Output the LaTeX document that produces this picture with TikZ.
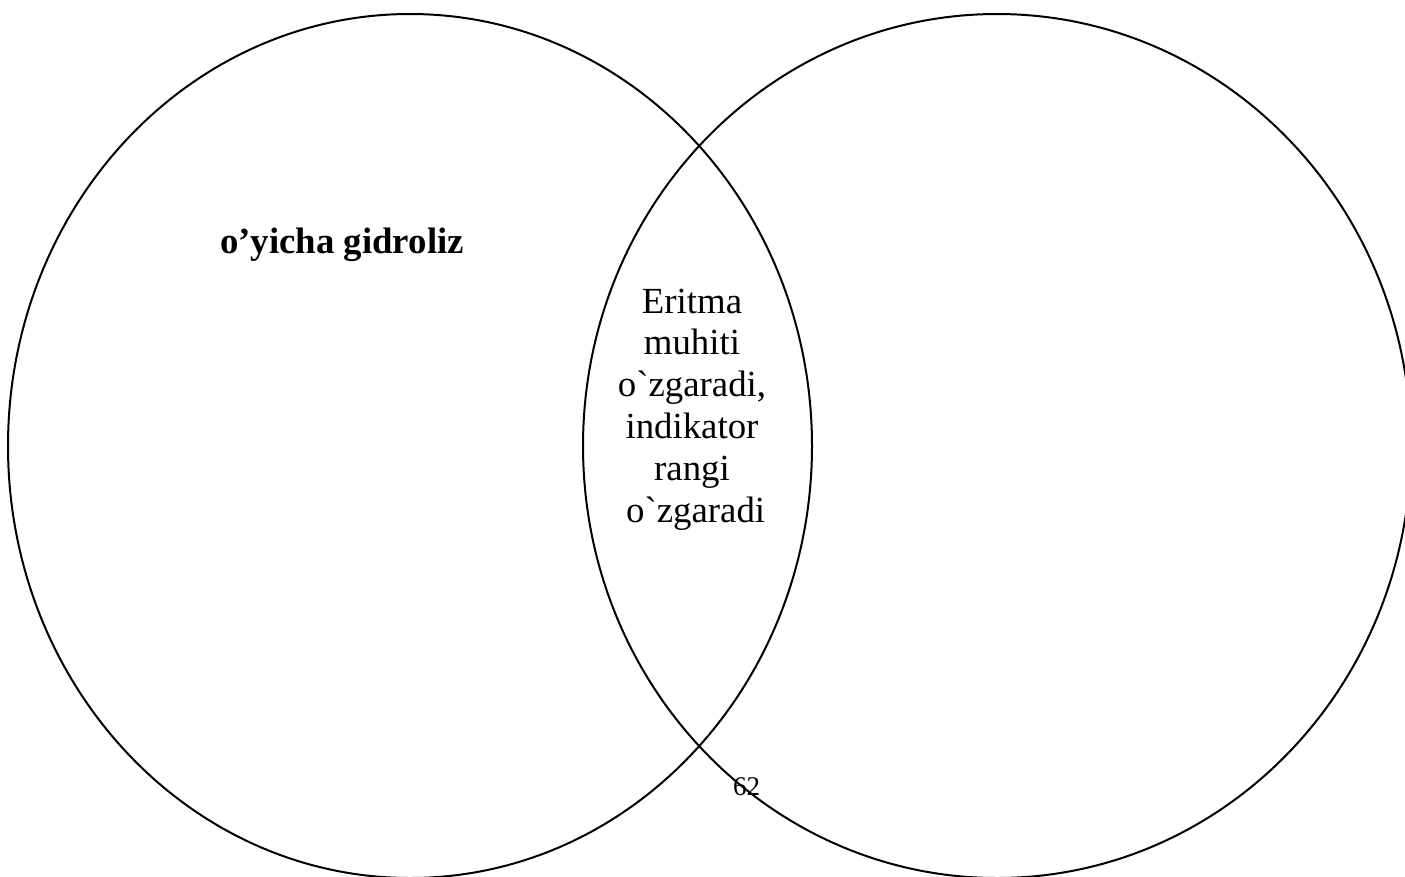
\documentclass[tikz,border=0pt]{standalone}
\usepackage{fontspec}
\setmainfont{Liberation Serif}
\usetikzlibrary{shapes.geometric}
\begin{document}
\begin{tikzpicture}[x=1pt,y=-1pt,
  venn/.style={ellipse, draw=black, line width=2pt, inner sep=0pt, outer sep=0pt},
  bigtext/.style={inner sep=0pt, font=\fontsize{36.8pt}{41.8pt}\selectfont},
  pagenum/.style={inner sep=0pt, font=\fontsize{27pt}{30pt}\selectfont}]
\clip (0,0) rectangle (1405,876);
\useasboundingbox (0,0) rectangle (1405,876);
\node[venn, minimum width=804pt, minimum height=864pt] (L) at (410,446) {};
\node[venn, minimum width=828pt, minimum height=864pt] (R) at (997,446) {};
\node[bigtext, anchor=base west] (title) at (220,253) {\bfseries o’yicha gidroliz};
\node[bigtext, align=center, anchor=base] (mid) at (692,522)
  {Eritma\\ muhiti\\ o\textasciigrave zgaradi,\\ indikator\\ rangi\\ \hspace*{0.2em}o\textasciigrave zgaradi};
\node[pagenum, anchor=base west] (pg) at (733,795) {62};
\end{tikzpicture}
\end{document}
